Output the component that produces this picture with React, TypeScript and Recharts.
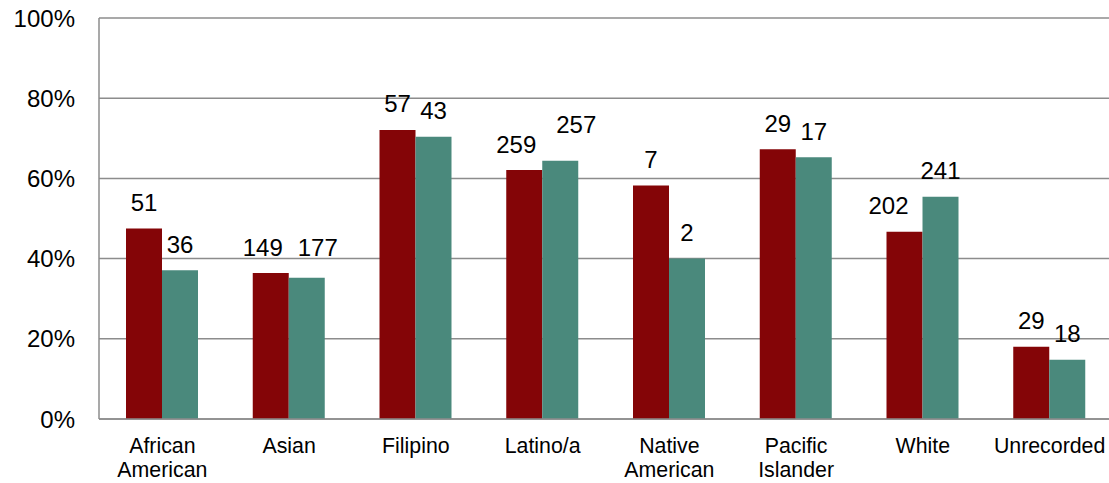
import { BarChart, Bar, XAxis, YAxis, CartesianGrid, LabelList } from "recharts";

const categories = [
  "African American",
  "Asian",
  "Filipino",
  "Latino/a",
  "Native American",
  "Pacific Islander",
  "White",
  "Unrecorded",
];
// bar heights (percent)
const firstPct = [47.5, 36.4, 72.1, 62.1, 58.2, 67.3, 46.7, 18.0];
const secondPct = [37.1, 35.2, 70.4, 64.4, 40.0, 65.3, 55.4, 14.8];
// counts printed above the bars
const firstCount = [51, 149, 57, 259, 7, 29, 202, 29];
const secondCount = [36, 177, 43, 257, 2, 17, 241, 18];
const yTicks = [0, 20, 40, 60, 80, 100];
const boundaryTicks = [0, 1, 2, 3, 4, 5, 6, 7, 8];

// a few labels were dragged by hand in the original, [dx, dy]
const firstNudge = [[0, 0], [-8, 0], [0, 0], [-8, 0], [0, 0], [0, 0], [-16, 0], [0, 0]];
const secondNudge = [[0, 0], [11, -4], [0, 0], [16, -10], [0, 0], [0, 0], [0, 0], [0, 0]];

const RED = "#840507";
const TEAL = "#4a897c";
const GRID = "#8c8c8c";
const FONT = '"Liberation Sans", Arial, sans-serif';

const data = categories.map((name, i) => ({
  name,
  first: firstPct[i],
  second: secondPct[i],
  firstN: firstCount[i],
  secondN: secondCount[i],
}));

function CategoryTick(props: any) {
  const { x, y, payload } = props;
  const lines = String(payload.value).split(" ");
  return (
    <g>
      {lines.map((line: string, i: number) => (
        <text
          key={i}
          x={x}
          y={y + 34 + i * 24}
          textAnchor="middle"
          fontSize={21.33}
          fontFamily={FONT}
          fill="#000"
        >
          {line}
        </text>
      ))}
    </g>
  );
}

const makeLabel = (nudge: number[][]) => (props: any) => {
  const vb = props.viewBox || props;
  const x = props.x ?? vb.x;
  const y = props.y ?? vb.y;
  const width = props.width ?? vb.width;
  const [dx, dy] = nudge[props.index] || [0, 0];
  return (
    <text
      x={x + width / 2 + dx}
      y={y - 17.4 + dy}
      textAnchor="middle"
      fontSize={24}
      fontFamily={FONT}
      fill="#000"
    >
      {props.value}
    </text>
  );
};

export default function App() {
  // the plot runs a little past the right edge in the original, so clip it
  return (
    <div
      style={{
        position: "absolute",
        top: 0,
        left: 0,
        width: 1109,
        height: 483,
        overflow: "hidden",
        fontFamily: FONT,
      }}
    >
      <BarChart
        width={1118}
        height={483}
        data={data}
        margin={{ top: 18, right: 5, bottom: 0, left: 0 }}
        barGap={0}
        barSize={36}
      >
        <CartesianGrid vertical={false} stroke={GRID} strokeWidth={1.5} />
        <XAxis
          xAxisId={0}
          type="number"
          domain={[0, 8]}
          ticks={boundaryTicks}
          interval={0}
          allowDataOverflow
          height={0}
          axisLine={false}
          tick={false}
          tickLine={{ stroke: GRID, strokeWidth: 1.5 }}
          tickSize={6}
        />
        <XAxis
          xAxisId={1}
          dataKey="name"
          height={64}
          interval={0}
          tickLine={false}
          tickSize={0}
          tickMargin={0}
          axisLine={{ stroke: GRID, strokeWidth: 1.5 }}
          tick={<CategoryTick />}
        />
        <YAxis
          domain={[0, 100]}
          ticks={yTicks}
          interval={0}
          width={99}
          tickFormatter={(v) => `${v}%`}
          tickLine={false}
          tickSize={0}
          tickMargin={24}
          axisLine={{ stroke: GRID, strokeWidth: 1.5 }}
          tick={{ fontSize: 24, fill: "#000", fontFamily: FONT }}
        />
        <Bar xAxisId={1} dataKey="first" fill={RED} isAnimationActive={false}>
          <LabelList dataKey="firstN" content={makeLabel(firstNudge)} />
        </Bar>
        <Bar xAxisId={1} dataKey="second" fill={TEAL} isAnimationActive={false}>
          <LabelList dataKey="secondN" content={makeLabel(secondNudge)} />
        </Bar>
      </BarChart>
    </div>
  );
}
